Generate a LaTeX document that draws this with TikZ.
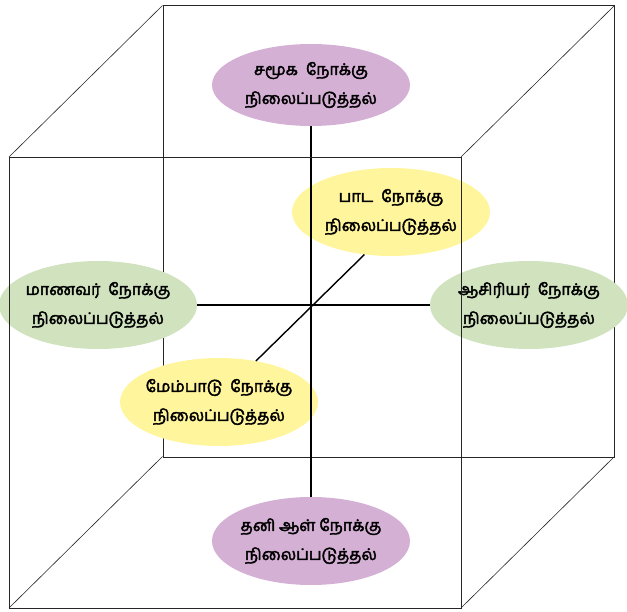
\documentclass[tikz,border=0pt]{standalone}
\usepackage{fontspec}
\newfontfamily\tamilfont[Script=Tamil,FakeBold=2.5]{Hind Madurai}
\usetikzlibrary{shapes.geometric}
\definecolor{mauve}{RGB}{213,176,213}
\definecolor{sage}{RGB}{208,226,190}
\definecolor{lemon}{RGB}{255,245,157}

\begin{document}
\begin{tikzpicture}[x=1pt,y=-1pt,
    view/.style={ellipse,minimum width=198pt,minimum height=88pt,inner sep=-8pt,
        align=center,font=\tamilfont\fontsize{16}{29}\selectfont},
    edge/.style={draw=black!85,line width=0.6pt},
    axis/.style={draw=black,line width=1.4pt}]
    \useasboundingbox (0,0) rectangle (627,612);

    % back face of the cube
    \draw[edge] (163,5) rectangle (614,457);
    \foreach \x/\y in {9/157, 461/157, 9/608, 461/608}
        \draw[edge] (\x,\y) -- ++(153.5,-151.5);

    % viewpoints
    \node[view,fill=lemon] (lesson) at (391,212) {பாட\enspace நோக்கு\\நிலைப்படுத்தல்};
    \node[view,fill=mauve,minimum height=82pt] (society) at (311,85) {சமூக\enspace நோக்கு\\நிலைப்படுத்தல்};
    \node[view,fill=sage] (student) at (98,305) {மாணவர்\enspace நோக்கு\\நிலைப்படுத்தல்};
    \node[view,fill=sage] (teacher) at (529,305) {ஆசிரியர்\enspace நோக்கு\\நிலைப்படுத்தல்};
    \node[view,fill=lemon] (progress) at (219,402) {மேம்பாடு\enspace நோக்கு\\நிலைப்படுத்தல்};
    \node[view,fill=mauve] (person) at (311,541) {தனி ஆள் நோக்கு\\நிலைப்படுத்தல்};

    % axes
    \draw[axis] (society) -- (person);
    \draw[axis] (student) -- (teacher);
    \draw[axis] (lesson.238) -- (progress.48);

    % front face of the cube
    \draw[edge] (9,157) rectangle (461,608);

\end{tikzpicture}
\end{document}
